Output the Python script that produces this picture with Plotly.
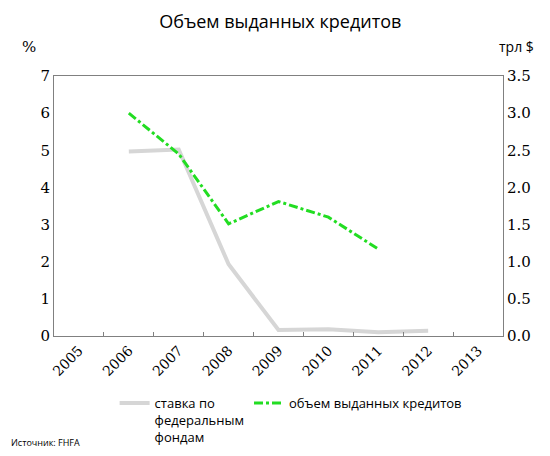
import plotly.graph_objects as go

years = ["2005", "2006", "2007", "2008", "2009", "2010", "2011", "2012", "2013"]
fed_years = ["2006", "2007", "2008", "2009", "2010", "2011", "2012"]
fed_rate = [4.97, 5.02, 1.93, 0.16, 0.18, 0.10, 0.14]
loan_years = ["2006", "2007", "2008", "2009", "2010", "2011"]
loan_volume = [3.0, 2.45, 1.51, 1.81, 1.6, 1.17]

serif = "DejaVu Serif"
sans = "Open Sans"

fig = go.Figure()
fig.add_trace(go.Scatter(
    x=fed_years, y=fed_rate, mode="lines",
    name="ставка по<br>федеральным<br>фондам",
    line=dict(color="#d6d6d6", width=4),
))
fig.add_trace(go.Scatter(
    x=loan_years, y=loan_volume, mode="lines", yaxis="y2",
    name="объем выданных кредитов",
    line=dict(color="#22dd22", width=3, dash="dashdot"),
))

fig.update_layout(
    width=550, height=456,
    margin=dict(l=46, r=55, t=68, b=121),
    paper_bgcolor="white", plot_bgcolor="white",
    title=dict(text="Объем выданных кредитов", x=0.495, xanchor="center",
               y=0.97, yanchor="middle", yref="container",
               font=dict(family=sans, size=18, color="black")),
    xaxis=dict(type="category", categoryorder="array", categoryarray=years,
               range=[-0.5, 8.5], tickson="boundaries", ticks="inside", ticklen=4,
               tickcolor="#808080", showline=True, linecolor="#808080", mirror=True,
               tickangle=-45, tickfont=dict(family=serif, size=14, color="black"),
               showgrid=False),
    yaxis=dict(range=[0, 7], dtick=1, showgrid=False, zeroline=False,
               showline=True, linecolor="#808080",
               tickfont=dict(family=serif, size=15, color="black")),
    yaxis2=dict(range=[0, 3.5], dtick=0.5, tickformat=".1f", overlaying="y", side="right",
                showgrid=False, zeroline=False, showline=True, linecolor="#808080",
                tickfont=dict(family=serif, size=15, color="black")),
    legend=dict(orientation="h", x=0.135, y=-0.2, xanchor="left", yanchor="top",
                font=dict(family=sans, size=13, color="black"), valign="top"),
    annotations=[
        dict(text="%", xref="paper", yref="paper", x=-0.055, y=1.07, showarrow=False,
             xanchor="center", yanchor="bottom", font=dict(family=serif, size=15, color="black")),
        dict(text="трл $", xref="paper", yref="paper", x=1.03, y=1.07, showarrow=False,
             xanchor="center", yanchor="bottom", font=dict(family=sans, size=14, color="black")),
        dict(text="Источник: FHFA", xref="paper", yref="paper", x=-0.1, y=-0.41,
             showarrow=False, xanchor="left", yanchor="middle",
             font=dict(family=sans, size=9, color="black")),
    ],
)

fig.write_html("out.html")
